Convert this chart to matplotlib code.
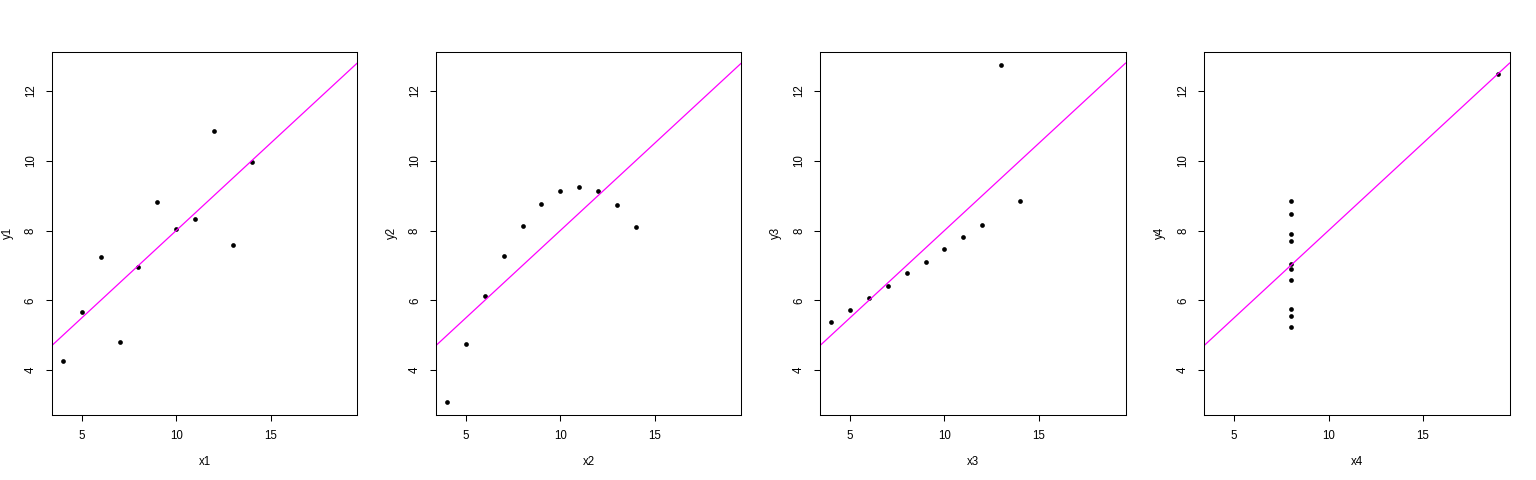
import numpy as np
import matplotlib
matplotlib.use("Agg")
import matplotlib.pyplot as plt

# Anscombe's quartet
x123 = [10, 8, 13, 9, 11, 14, 6, 4, 12, 7, 5]
x4 = [8, 8, 8, 8, 8, 8, 8, 19, 8, 8, 8]
y1 = [8.04, 6.95, 7.58, 8.81, 8.33, 9.96, 7.24, 4.26, 10.84, 4.82, 5.68]
y2 = [9.14, 8.14, 8.74, 8.77, 9.26, 8.10, 6.13, 3.10, 9.13, 7.26, 4.74]
y3 = [7.46, 6.77, 12.74, 7.11, 7.81, 8.84, 6.08, 5.39, 8.15, 6.42, 5.73]
y4 = [6.58, 5.76, 7.71, 8.84, 8.47, 7.04, 5.25, 12.50, 5.56, 7.91, 6.89]

xs = [x123, x123, x123, x4]
ys = [y1, y2, y3, y4]
xnames = ["x1", "x2", "x3", "x4"]
ynames = ["y1", "y2", "y3", "y4"]

plt.rcParams['font.family'] = ['Liberation Sans', 'DejaVu Sans']

fig = plt.figure(figsize=(15.36, 4.8), dpi=100)
W, H = 1536, 480

# common limits (data range + 4%, like R)
xmin = min(min(x) for x in xs)
xmax = max(max(x) for x in xs)
ymin = min(min(y) for y in ys)
ymax = max(max(y) for y in ys)
dx = (xmax - xmin) * 0.04
dy = (ymax - ymin) * 0.04

for i in range(4):
    left = 51.7 + i * 384.1
    ax = fig.add_axes([left / W, (H - 415) / H, 305.6 / W, (415 - 51.7) / H])
    x = np.array(xs[i], dtype=float)
    y = np.array(ys[i], dtype=float)
    ax.plot(x, y, 'o', color='black', markersize=3.4, markeredgewidth=0)
    b, a = np.polyfit(x, y, 1)
    ax.axline((0, a), slope=b, color='#ff00ff', linewidth=0.9)
    ax.set_xlim(xmin - dx, xmax + dx)
    ax.set_ylim(ymin - dy, ymax + dy)
    ax.set_xticks([5, 10, 15])
    ax.set_yticks([4, 6, 8, 10, 12])
    ax.set_yticklabels(['4', '6', '8', '10', '12'], rotation=90, va='center')
    ax.tick_params(length=4.2, width=0.75, labelsize=8.3, pad=6.5, color='black')
    for s in ax.spines.values():
        s.set_linewidth(0.75)
        s.set_color('black')
    ax.set_xlabel(xnames[i], fontsize=8.3, labelpad=10)
    ax.set_ylabel(ynames[i], fontsize=8.3, labelpad=8)

fig.savefig("out.png", dpi=100)
